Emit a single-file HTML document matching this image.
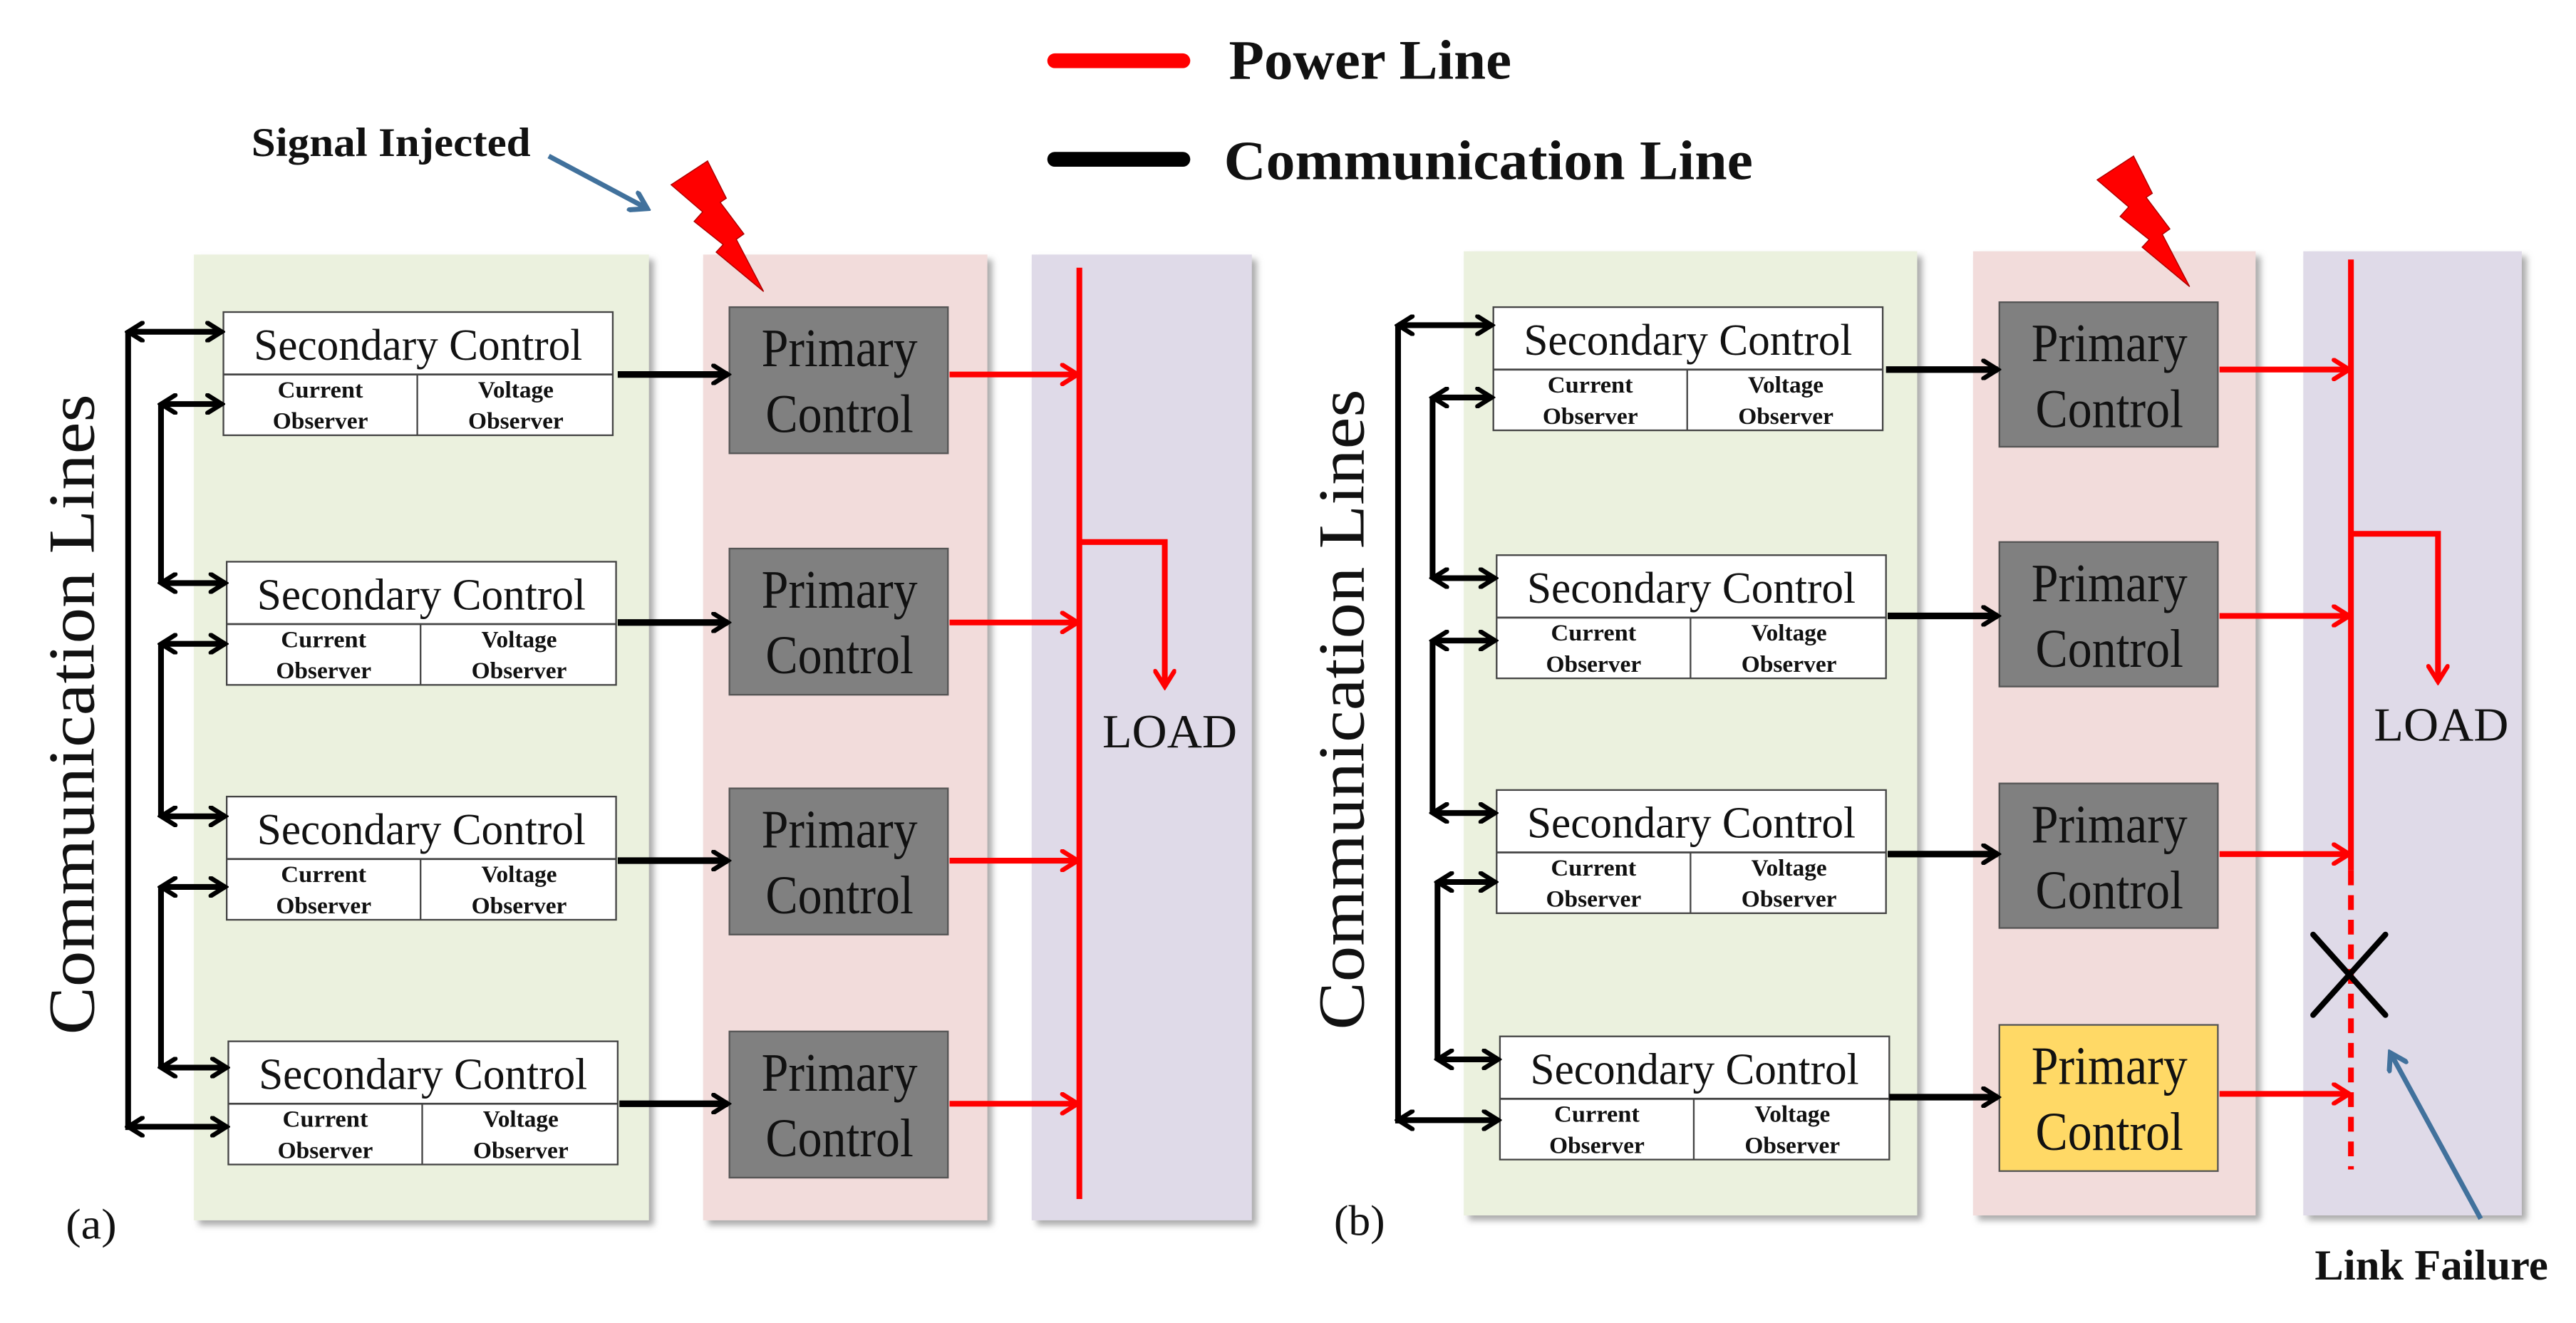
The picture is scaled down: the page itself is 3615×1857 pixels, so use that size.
<!DOCTYPE html>
<html><head><meta charset="utf-8"><style>
html,body{margin:0;padding:0;background:#fff;}
svg{display:block;}
text{font-family:"Liberation Serif",serif;fill:#111;}
</style></head><body>
<svg width="3615" height="1857" viewBox="0 0 1568 805.5" preserveAspectRatio="none" xmlns="http://www.w3.org/2000/svg">
<defs>
<filter id="sh" x="-10%" y="-10%" width="130%" height="130%"><feGaussianBlur stdDeviation="2"/></filter>
<marker id="bk" viewBox="0 0 12 12" refX="10" refY="6" markerWidth="13" markerHeight="13" markerUnits="userSpaceOnUse" orient="auto-start-reverse"><path d="M2,1 L10,6 L2,11" fill="none" stroke="#000" stroke-width="2.6" stroke-linecap="round"/></marker>
<marker id="rd" viewBox="0 0 12 12" refX="10" refY="6" markerWidth="14" markerHeight="14" markerUnits="userSpaceOnUse" orient="auto"><path d="M2,1 L10,6 L2,11" fill="none" stroke="#f00" stroke-width="2.4" stroke-linecap="round"/></marker>
<marker id="bl" viewBox="0 0 12 12" refX="10" refY="6" markerWidth="14" markerHeight="14" markerUnits="userSpaceOnUse" orient="auto"><path d="M2,1 L10,6 L2,11" fill="none" stroke="#41719C" stroke-width="2.6" stroke-linecap="round"/></marker>
<g id="sec">
<rect x="0" y="0" width="237" height="75" fill="#fff" stroke="#444" stroke-width="1"/>
<line x1="0" y1="38" x2="237" y2="38" stroke="#444" stroke-width="1.2"/>
<line x1="118" y1="38" x2="118" y2="75" stroke="#444" stroke-width="1"/>
<text x="118.5" y="29" font-size="27" text-anchor="middle" textLength="200" lengthAdjust="spacingAndGlyphs">Secondary Control</text>
<text x="59" y="52" font-size="14" font-weight="bold" text-anchor="middle" textLength="52" lengthAdjust="spacingAndGlyphs">Current</text>
<text x="59" y="71" font-size="14" font-weight="bold" text-anchor="middle" textLength="58" lengthAdjust="spacingAndGlyphs">Observer</text>
<text x="178" y="52" font-size="14" font-weight="bold" text-anchor="middle" textLength="46" lengthAdjust="spacingAndGlyphs">Voltage</text>
<text x="178" y="71" font-size="14" font-weight="bold" text-anchor="middle" textLength="58" lengthAdjust="spacingAndGlyphs">Observer</text>
</g>
<g id="pt">
<text x="67" y="36" font-size="33" text-anchor="middle" textLength="95" lengthAdjust="spacingAndGlyphs">Primary</text>
<text x="67" y="76" font-size="33" text-anchor="middle" textLength="90" lengthAdjust="spacingAndGlyphs">Control</text>
</g>
<polygon id="bolt" points="430.7,98 442.1,120.7 438.4,123.2 452.8,142.4 448.2,145.7 464.8,177.5 435.9,153.5 440.2,148.9 422.5,134.8 427.7,129 408.5,112.5" fill="#f00" stroke="#a00" stroke-width="0.6"/>
</defs>

<!-- legend -->
<line x1="642" y1="37" x2="720" y2="37" stroke="#f00" stroke-width="9" stroke-linecap="round"/>
<text x="748" y="48" font-size="34" font-weight="bold" textLength="172" lengthAdjust="spacingAndGlyphs">Power Line</text>
<line x1="642" y1="97" x2="720" y2="97" stroke="#000" stroke-width="9" stroke-linecap="round"/>
<text x="745" y="109" font-size="34" font-weight="bold" textLength="322" lengthAdjust="spacingAndGlyphs">Communication Line</text>

<text x="153" y="95" font-size="25" font-weight="bold" textLength="170" lengthAdjust="spacingAndGlyphs">Signal Injected</text>
<line x1="334" y1="95" x2="394" y2="127" stroke="#41719C" stroke-width="3" marker-end="url(#bl)"/>

<!-- panels (a) -->
<rect x="121" y="158" width="277" height="588" fill="#aaa" filter="url(#sh)"/>
<rect x="118" y="155" width="277" height="588" fill="#EBF1DE"/>
<rect x="431" y="158" width="173" height="588" fill="#aaa" filter="url(#sh)"/>
<rect x="428" y="155" width="173" height="588" fill="#F2DCDB"/>
<rect x="631" y="158" width="134" height="588" fill="#aaa" filter="url(#sh)"/>
<rect x="628" y="155" width="134" height="588" fill="#DFDAE8"/>
<!-- panels (b) -->
<rect x="894" y="156" width="276" height="587" fill="#aaa" filter="url(#sh)"/>
<rect x="891" y="153" width="276" height="587" fill="#EBF1DE"/>
<rect x="1204" y="156" width="172" height="587" fill="#aaa" filter="url(#sh)"/>
<rect x="1201" y="153" width="172" height="587" fill="#F2DCDB"/>
<rect x="1405" y="156" width="133" height="587" fill="#aaa" filter="url(#sh)"/>
<rect x="1402" y="153" width="133" height="587" fill="#DFDAE8"/>

<use href="#bolt"/>
<use href="#bolt" transform="translate(868,-3)"/>

<!-- secondary boxes -->
<use href="#sec" transform="translate(136,190)"/>
<use href="#sec" transform="translate(138,342)"/>
<use href="#sec" transform="translate(138,485)"/>
<use href="#sec" transform="translate(139,634)"/>
<use href="#sec" transform="translate(909,187)"/>
<use href="#sec" transform="translate(911,338)"/>
<use href="#sec" transform="translate(911,481)"/>
<use href="#sec" transform="translate(913,631)"/>

<!-- primary boxes -->
<g stroke="#555" stroke-width="1">
<rect x="444" y="187" width="133" height="89" fill="#808080"/>
<rect x="444" y="334" width="133" height="89" fill="#808080"/>
<rect x="444" y="480" width="133" height="89" fill="#808080"/>
<rect x="444" y="628" width="133" height="89" fill="#808080"/>
<rect x="1217" y="184" width="133" height="88" fill="#808080"/>
<rect x="1217" y="330" width="133" height="88" fill="#808080"/>
<rect x="1217" y="477" width="133" height="88" fill="#808080"/>
<rect x="1217" y="624" width="133" height="89" fill="#FFD966"/>
</g>
<use href="#pt" transform="translate(444,187)"/>
<use href="#pt" transform="translate(444,334)"/>
<use href="#pt" transform="translate(444,480)"/>
<use href="#pt" transform="translate(444,628)"/>
<use href="#pt" transform="translate(1217,184)"/>
<use href="#pt" transform="translate(1217,330)"/>
<use href="#pt" transform="translate(1217,477)"/>
<use href="#pt" transform="translate(1217,624)"/>

<!-- black arrows sec->prim -->
<g stroke="#000" stroke-width="4" fill="none">
<line x1="376" y1="228" x2="443" y2="228" marker-end="url(#bk)"/>
<line x1="376" y1="379" x2="443" y2="379" marker-end="url(#bk)"/>
<line x1="376" y1="524" x2="443" y2="524" marker-end="url(#bk)"/>
<line x1="377" y1="672" x2="443" y2="672" marker-end="url(#bk)"/>
<line x1="1148" y1="225" x2="1216" y2="225" marker-end="url(#bk)"/>
<line x1="1149" y1="375" x2="1216" y2="375" marker-end="url(#bk)"/>
<line x1="1149" y1="520" x2="1216" y2="520" marker-end="url(#bk)"/>
<line x1="1150" y1="668" x2="1216" y2="668" marker-end="url(#bk)"/>
</g>

<!-- comm lines (a) -->
<g stroke="#000" stroke-width="3.5" fill="none">
<line x1="78" y1="202" x2="78" y2="688"/>
<line x1="78" y1="202" x2="135" y2="202" marker-start="url(#bk)" marker-end="url(#bk)"/>
<line x1="78" y1="686" x2="138" y2="686" marker-start="url(#bk)" marker-end="url(#bk)"/>
<line x1="98" y1="246" x2="98" y2="355"/>
<line x1="98" y1="246" x2="135" y2="246" marker-start="url(#bk)" marker-end="url(#bk)"/>
<line x1="98" y1="355" x2="137" y2="355" marker-start="url(#bk)" marker-end="url(#bk)"/>
<line x1="98" y1="392" x2="98" y2="497"/>
<line x1="98" y1="392" x2="137" y2="392" marker-start="url(#bk)" marker-end="url(#bk)"/>
<line x1="98" y1="497" x2="137" y2="497" marker-start="url(#bk)" marker-end="url(#bk)"/>
<line x1="98" y1="540" x2="98" y2="650"/>
<line x1="98" y1="540" x2="137" y2="540" marker-start="url(#bk)" marker-end="url(#bk)"/>
<line x1="98" y1="650" x2="138" y2="650" marker-start="url(#bk)" marker-end="url(#bk)"/>
</g>
<!-- comm lines (b) -->
<g stroke="#000" stroke-width="3.5" fill="none">
<line x1="851" y1="198" x2="851" y2="684"/>
<line x1="851" y1="198" x2="908" y2="198" marker-start="url(#bk)" marker-end="url(#bk)"/>
<line x1="851" y1="682" x2="912" y2="682" marker-start="url(#bk)" marker-end="url(#bk)"/>
<line x1="872" y1="242" x2="872" y2="352"/>
<line x1="872" y1="242" x2="908" y2="242" marker-start="url(#bk)" marker-end="url(#bk)"/>
<line x1="872" y1="352" x2="910" y2="352" marker-start="url(#bk)" marker-end="url(#bk)"/>
<line x1="872" y1="390" x2="872" y2="495"/>
<line x1="872" y1="390" x2="910" y2="390" marker-start="url(#bk)" marker-end="url(#bk)"/>
<line x1="872" y1="495" x2="910" y2="495" marker-start="url(#bk)" marker-end="url(#bk)"/>
<line x1="875" y1="537" x2="875" y2="645"/>
<line x1="875" y1="537" x2="910" y2="537" marker-start="url(#bk)" marker-end="url(#bk)"/>
<line x1="875" y1="645" x2="912" y2="645" marker-start="url(#bk)" marker-end="url(#bk)"/>
</g>

<!-- power lines (a) -->
<g stroke="#f00" stroke-width="3.5" fill="none">
<line x1="657" y1="163" x2="657" y2="730"/>
<polyline points="657,330 709,330 709,418" marker-end="url(#rd)"/>
<line x1="578" y1="228" x2="656" y2="228" marker-end="url(#rd)"/>
<line x1="578" y1="379" x2="656" y2="379" marker-end="url(#rd)"/>
<line x1="578" y1="524" x2="656" y2="524" marker-end="url(#rd)"/>
<line x1="578" y1="672" x2="656" y2="672" marker-end="url(#rd)"/>
</g>
<text x="712" y="455" font-size="29" text-anchor="middle" textLength="82" lengthAdjust="spacingAndGlyphs">LOAD</text>
<!-- power lines (b) -->
<g stroke="#f00" stroke-width="3.5" fill="none">
<line x1="1431" y1="158" x2="1431" y2="530"/>
<line x1="1431" y1="530" x2="1431" y2="712" stroke-dasharray="9,6"/>
<polyline points="1431,325 1484,325 1484,415" marker-end="url(#rd)"/>
<line x1="1351" y1="225" x2="1430" y2="225" marker-end="url(#rd)"/>
<line x1="1351" y1="375" x2="1430" y2="375" marker-end="url(#rd)"/>
<line x1="1351" y1="520" x2="1430" y2="520" marker-end="url(#rd)"/>
<line x1="1351" y1="666" x2="1430" y2="666" marker-end="url(#rd)"/>
</g>
<text x="1486" y="451" font-size="29" text-anchor="middle" textLength="82" lengthAdjust="spacingAndGlyphs">LOAD</text>
<g stroke="#000" stroke-width="3.5" stroke-linecap="round">
<line x1="1408" y1="569" x2="1452" y2="618"/>
<line x1="1452" y1="569" x2="1408" y2="618"/>
</g>
<line x1="1510" y1="742" x2="1455" y2="641" stroke="#41719C" stroke-width="3" marker-end="url(#bl)"/>
<text x="1409" y="779" font-size="26" font-weight="bold" textLength="142" lengthAdjust="spacingAndGlyphs">Link Failure</text>

<!-- vertical labels -->
<text transform="translate(57,435) rotate(-90)" font-size="40" text-anchor="middle" textLength="390" lengthAdjust="spacingAndGlyphs">Communication Lines</text>
<text transform="translate(830,432) rotate(-90)" font-size="40" text-anchor="middle" textLength="390" lengthAdjust="spacingAndGlyphs">Communication Lines</text>
<text x="40" y="754" font-size="26" textLength="31" lengthAdjust="spacingAndGlyphs">(a)</text>
<text x="812" y="752" font-size="26" textLength="31" lengthAdjust="spacingAndGlyphs">(b)</text>
</svg>
</body></html>
